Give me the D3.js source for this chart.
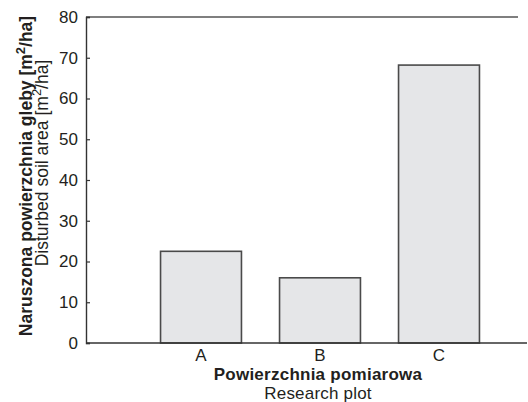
<!DOCTYPE html>
<html><head><meta charset="utf-8">
<script src="https://cdn.jsdelivr.net/npm/d3@7"></script>
<style>
html,body{margin:0;padding:0;background:#fff;}
svg text{font-family:"Liberation Sans",Arial,sans-serif;fill:#231f20;}
</style></head>
<body><svg id="c" width="528" height="402"></svg>
<script>
const categories = ["A","B","C"];
const values = [22.5, 16.0, 68.2];
const yTicks = [0,10,20,30,40,50,60,70,80];

(function(){
const svg = d3.select("#c");
const mLeft = 86, mTop = 17, mBottom = 343, mRight = 527, mTopRight = 518;

const y = d3.scaleLinear().domain([0,80]).range([mBottom, mTop]);
const x = d3.scaleBand().domain(categories).range([141.5, 498.5]).paddingInner(0.32).paddingOuter(0.16);

// bars
svg.append("g").selectAll("rect").data(values).join("rect")
  .attr("x", (d,i)=>x(categories[i]))
  .attr("y", d=>y(d))
  .attr("width", x.bandwidth())
  .attr("height", d=>y(0)-y(d))
  .attr("fill","#e5e6e8")
  .attr("stroke","#4a4a4a")
  .attr("stroke-width",1.6);

// top border
svg.append("line").attr("x1",mLeft).attr("x2",mTopRight).attr("y1",mTop).attr("y2",mTop)
  .attr("stroke","#555").attr("stroke-width",1.4);

// y axis
const yAxis = d3.axisLeft(y).tickValues(yTicks).tickSize(-4).tickPadding(8).tickFormat(d3.format("d"));
const gy = svg.append("g").attr("transform",`translate(${mLeft},0)`).call(yAxis);
gy.select(".domain").attr("stroke","#333").attr("stroke-width",1.4);
gy.selectAll(".tick line").attr("stroke","#333").attr("stroke-width",1.2);
gy.selectAll(".tick text").attr("font-size",17).attr("fill","#231f20").style("font-family","Liberation Sans, Arial, sans-serif");

// x axis
const xAxis = d3.axisBottom(x).tickSize(0).tickPadding(6);
const gx = svg.append("g").attr("transform",`translate(0,${mBottom})`).call(xAxis);
gx.select(".domain").remove();
gx.append("line").attr("x1",mLeft).attr("x2",mRight).attr("y1",0).attr("y2",0)
  .attr("stroke","#333").attr("stroke-width",1.6);
gx.selectAll(".tick text").attr("font-size",17).attr("fill","#231f20").style("font-family","Liberation Sans, Arial, sans-serif");

// x titles
const cx = 318;
svg.append("text").attr("x",cx).attr("y",379.5).attr("text-anchor","middle")
  .attr("font-size",17).attr("font-weight","bold").attr("letter-spacing",0.25).text("Powierzchnia pomiarowa");
svg.append("text").attr("x",cx).attr("y",399).attr("text-anchor","middle")
  .attr("font-size",17).attr("letter-spacing",0.2).text("Research plot");

// y titles
function yTitle(xpos, ycenter, weight, pre, post){
  const t = svg.append("text").attr("transform",`translate(${xpos},${ycenter}) rotate(-90)`)
    .attr("text-anchor","middle").attr("font-size",17.5).attr("font-weight",weight);
  t.append("tspan").text(pre);
  t.append("tspan").attr("font-size",13).attr("dy",-7).text("2");
  t.append("tspan").attr("dy",7).text(post);
}
yTitle(32, 176, "bold", "Naruszona powierzchnia gleby [m", "/ha]");
yTitle(48, 163, "normal", "Disturbed soil area [m", "/ha]");
})();
</script></body></html>
